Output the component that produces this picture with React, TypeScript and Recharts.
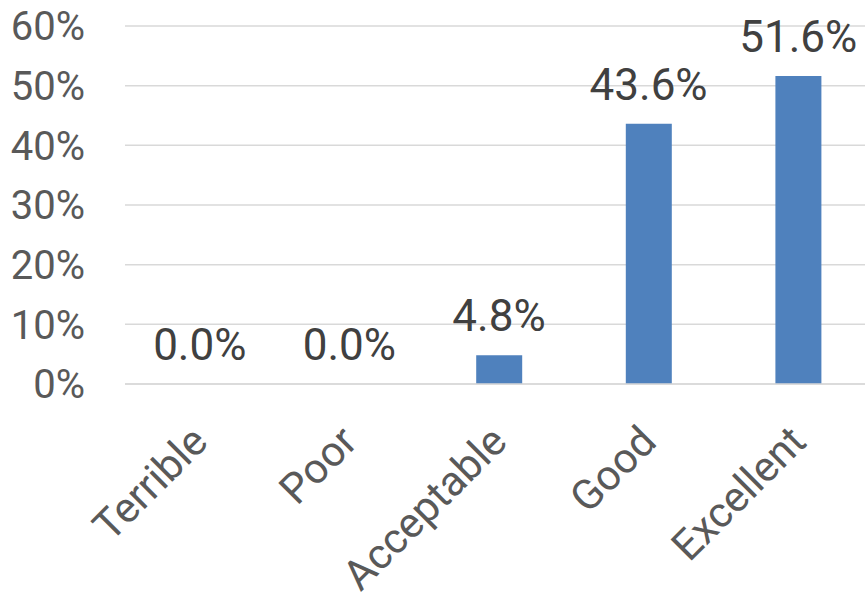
import React from "react";
import { ComposedChart, Bar, Line, XAxis, YAxis, CartesianGrid, LabelList } from "recharts";

const categories = ["Terrible", "Poor", "Acceptable", "Good", "Excellent"];
const shares = [0.0, 0.0, 0.048, 0.436, 0.516];
const yTicks = [0, 0.1, 0.2, 0.3, 0.4, 0.5, 0.6];

const data = categories.map((c, i) => ({ category: c, value: shares[i] }));

const FONT = "Roboto, 'Open Sans', sans-serif";

const XTick = (props: any) => {
  const { x, y, payload } = props;
  return (
    <g transform={`translate(${x + 10},${y + 60})`}>
      <text
        x={0}
        y={0}
        textAnchor="end"
        transform="rotate(-45)"
        fill="#595959"
        fontSize={42}
        fontFamily={FONT}
      >
        {payload.value}
      </text>
    </g>
  );
};

export default function App() {
  return (
    <div style={{ position: "absolute", left: 0, top: 0, width: 865, height: 600, overflow: "hidden", background: "#fff" }}>
      <ComposedChart
        width={880}
        height={600}
        data={data}
        margin={{ top: 26, right: 7, left: 0, bottom: 0 }}
      >
        <CartesianGrid vertical={false} stroke="#d9d9d9" strokeWidth={1.5} />
        <XAxis
          dataKey="category"
          axisLine={{ stroke: "#d9d9d9", strokeWidth: 1.5 }}
          tickLine={false}
          tickSize={0}
          tickMargin={0}
          height={216}
          interval={0}
          tick={<XTick />}
        />
        <YAxis
          domain={[0, 0.6]}
          ticks={yTicks}
          width={125}
          axisLine={false}
          tickLine={false}
          tickSize={0}
          tickMargin={40}
          tickFormatter={(v: number) => `${Math.round(v * 100)}%`}
          tick={{ fill: "#595959", fontSize: 40, fontFamily: FONT }}
        />
        <Bar dataKey="value" fill="#4f81bd" barSize={46} isAnimationActive={false} />
        <Line
          dataKey="value"
          stroke="none"
          dot={false}
          activeDot={false}
          isAnimationActive={false}
          legendType="none"
        >
          <LabelList
            dataKey="value"
            position="top"
            offset={24}
            formatter={(v: any) => `${(Number(v) * 100).toFixed(1)}%`}
            fill="#404040"
            fontSize={44}
            fontFamily={FONT}
          />
        </Line>
      </ComposedChart>
    </div>
  );
}
